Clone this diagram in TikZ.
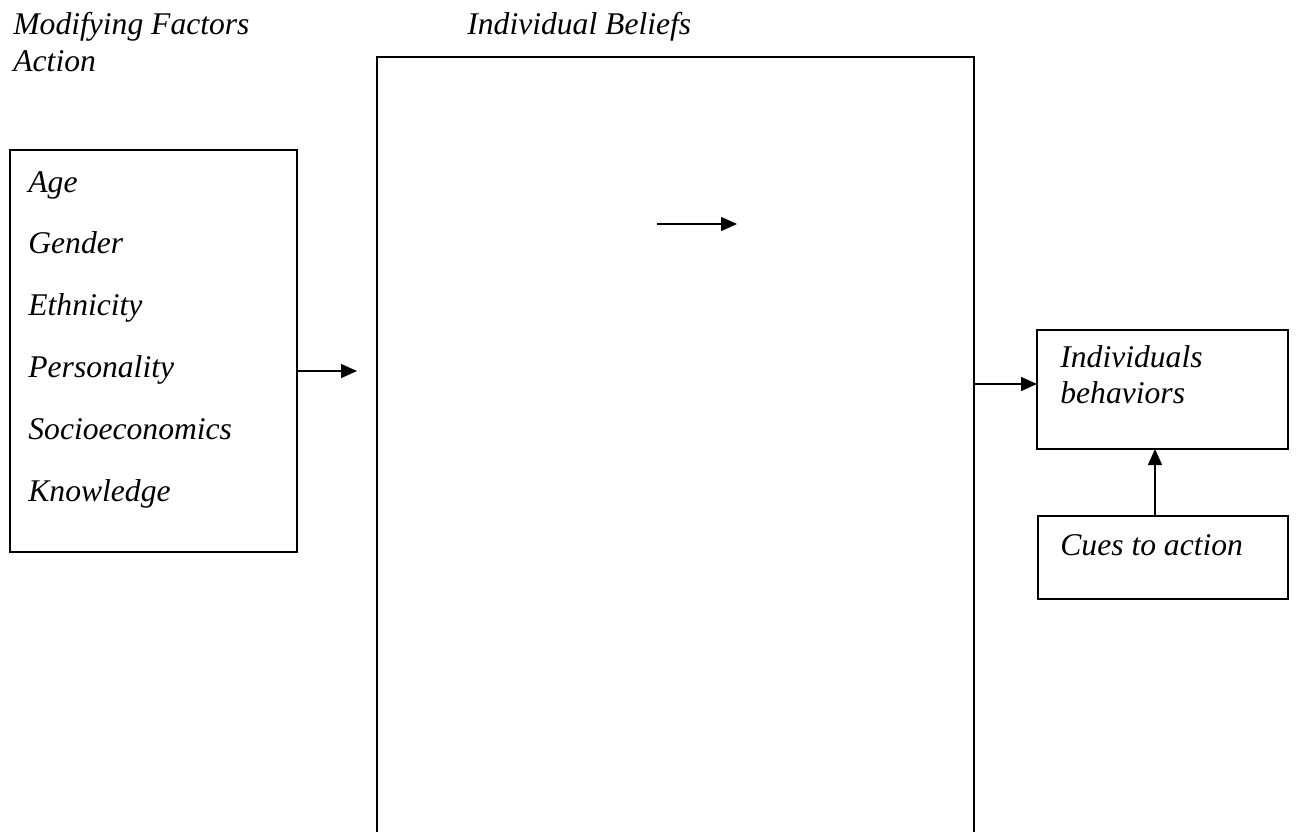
\documentclass[tikz,border=0pt]{standalone}
\usepackage{fontspec}
\setmainfont{Liberation Serif}
\usetikzlibrary{arrows.meta}
\tikzset{
  box/.style={draw, line width=0.6pt, inner sep=0pt, outer sep=0pt, anchor=north west},
  txt/.style={anchor=base west, inner sep=0pt},
  arr/.style={-{Triangle[length=8pt,width=7pt]}, line width=0.75pt}
}
\begin{document}
\begin{tikzpicture}[x=0.5pt, y=-0.5pt, font=\fontsize{15.8pt}{19pt}\selectfont\itshape]
  \useasboundingbox (0,0) rectangle (1296,831);
  \clip (0,0) rectangle (1296,831);
  % headings
  \node[txt] (modhead) at (13,34) {Modifying Factors};
  \node[txt] (acthead) at (13,71) {Action};
  \node[txt] (belhead) at (467,34) {Individual Beliefs};
  % boxes
  \node[box, minimum width=143.5pt, minimum height=201pt] (factors) at (10,150) {};
  \node[box, minimum width=298.5pt, minimum height=450pt] (beliefs) at (377,57) {};
  \node[box, minimum width=125.5pt, minimum height=59.5pt] (behav) at (1037,330) {};
  \node[box, minimum width=125pt, minimum height=41.5pt] (cues) at (1038,516) {};
  % modifying factors
  \foreach \w [count=\i] in {Age,Gender,Ethnicity,Personality,Socioeconomics,Knowledge}
    \node[txt] (fac\i) at (28,{192+61.8*(\i-1)}) {\w};
  \node[txt] (behav1) at (1060,367) {Individuals};
  \node[txt] (behav2) at (1060,403) {behaviors};
  \node[txt] (cuestxt) at (1060,555) {Cues to action};
  % arrows
  \coordinate (facend) at (357,371);
  \coordinate (innstart) at (657,224);
  \coordinate (innend) at (737,224);
  \coordinate (behend) at (1037,384);
  \draw[arr] (factors.east |- facend) -- (facend);
  \draw[arr] (innstart) -- (innend);
  \draw[arr] (beliefs.east |- behend) -- (behend);
  \draw[arr] ([xshift=-4pt]cues.north) -- ([xshift=-4pt]cues.north |- behav.south);
\end{tikzpicture}
\end{document}
